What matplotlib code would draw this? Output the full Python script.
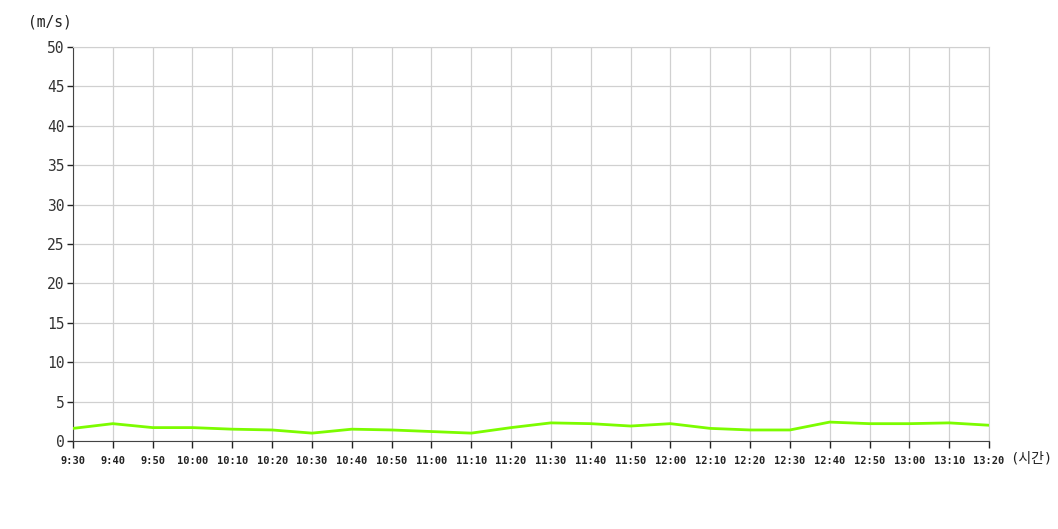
import matplotlib
matplotlib.use("Agg")
import matplotlib.pyplot as plt

times = ["9:30", "9:40", "9:50", "10:00", "10:10", "10:20", "10:30", "10:40",
         "10:50", "11:00", "11:10", "11:20", "11:30", "11:40", "11:50", "12:00",
         "12:10", "12:20", "12:30", "12:40", "12:50", "13:00", "13:10", "13:20"]
speed = [1.6, 2.2, 1.7, 1.7, 1.5, 1.4, 1.0, 1.5,
         1.4, 1.2, 1.0, 1.7, 2.3, 2.2, 1.9, 2.2,
         1.6, 1.4, 1.4, 2.4, 2.2, 2.2, 2.3, 2.0]
y_ticks = [0, 5, 10, 15, 20, 25, 30, 35, 40, 45, 50]

FONT = ["DejaVu Sans Mono", "Noto Sans CJK KR"]
plt.rcParams["font.family"] = FONT

fig = plt.figure(figsize=(10.58, 5.29), dpi=100)
ax = fig.add_axes([73 / 1058, 1 - 441 / 529, (989 - 73) / 1058, (441 - 47) / 529])

x = list(range(len(times)))
ax.plot(x, speed, color="#7cfc00", lw=2, zorder=3)

ax.set_xlim(0, len(times) - 1)
ax.set_ylim(0, 50)
ax.set_xticks(x)
ax.set_xticklabels(times, fontsize=7.5, fontweight="bold", color="#222222")
ax.set_yticks(y_ticks)
ax.set_yticklabels([str(v) for v in y_ticks], fontsize=10.5, color="#333333")

ax.grid(True, color="#d0d0d0", lw=0.9)
ax.set_axisbelow(True)
for s in ["top", "right"]:
    ax.spines[s].set_color("#d0d0d0")
for s in ["left", "bottom"]:
    ax.spines[s].set_color("#444444")
ax.tick_params(axis="x", length=5, width=1, color="#222222", pad=6)
ax.tick_params(axis="y", length=4, width=1, color="#222222", pad=2)

fig.text(50 / 1058, 1 - 22 / 529, "(m/s)", fontsize=10.5, color="#222222",
         ha="center", va="center")
fig.text(1031 / 1058, 1 - 459 / 529, "(시간)", fontsize=10, color="#222222",
         ha="center", va="center", family=FONT)

fig.savefig("out.png", dpi=100)
